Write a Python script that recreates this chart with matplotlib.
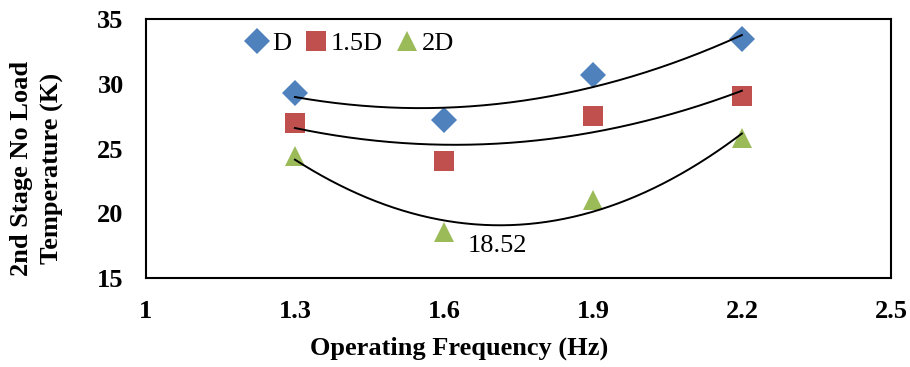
import numpy as np
import matplotlib
matplotlib.use("Agg")
import matplotlib.pyplot as plt

plt.rcParams['font.family'] = ['Liberation Serif', 'DejaVu Serif']

freq = [1.3, 1.6, 1.9, 2.2]
series_names = ["D", "1.5D", "2D"]
temp_D = [29.3, 27.2, 30.7, 33.45]
temp_15D = [27.0, 24.05, 27.5, 29.05]
temp_2D = [24.45, 18.52, 21.05, 25.85]
xticks = [1, 1.3, 1.6, 1.9, 2.2, 2.5]
xtick_labels = ["1", "1.3", "1.6", "1.9", "2.2", "2.5"]
yticks = [15, 20, 25, 30, 35]

colors = ["#4F81BD", "#C0504D", "#9BBB59"]
markers = ["D", "s", "^"]
msizes = [13.5, 14.5, 14.5]

FS = 19

fig = plt.figure(figsize=(9.1, 3.67), dpi=100)
ax = fig.add_axes([0.1604, 0.2425, 0.8186, 0.7055])

for name, vals, c, m, ms in zip(series_names, [temp_D, temp_15D, temp_2D], colors, markers, msizes):
    ax.plot(freq, vals, linestyle='none', marker=m, color=c, markersize=ms,
            markeredgewidth=0, label=name, zorder=3)
    coef = np.polyfit(freq, vals, 2)
    xs = np.linspace(freq[0], freq[-1], 200)
    ax.plot(xs, np.polyval(coef, xs), color='black', linewidth=1.4, zorder=4)

ax.annotate("18.52", xy=(freq[1], temp_2D[1]), xytext=(17, -10),
            textcoords='offset points', fontsize=FS, va='center', ha='left')

ax.set_xlim(1, 2.5)
ax.set_ylim(15, 35)
ax.set_xticks(xticks)
ax.set_xticklabels(xtick_labels)
ax.set_yticks(yticks)
ax.tick_params(length=0, labelsize=FS, pad=16)
ax.tick_params(axis='y', pad=16)
for lab in ax.get_xticklabels() + ax.get_yticklabels():
    lab.set_fontweight('bold')
for sp in ax.spines.values():
    sp.set_linewidth(1.5)
    sp.set_color('black')

ax.set_xlabel("Operating Frequency (Hz)", fontsize=FS, fontweight='bold')
ax.xaxis.set_label_coords(0.42, -0.228)
ax.set_ylabel("2nd Stage No Load\nTemperature (K)", fontsize=FS, fontweight='bold',
              linespacing=1.4)
ax.yaxis.set_label_coords(-0.11, 0.425)

leg = ax.legend(loc='center left', bbox_to_anchor=(0.13, 0.905), ncol=3, frameon=False,
                fontsize=FS, handletextpad=0.0, columnspacing=0.4, handlelength=1.1,
                borderaxespad=0, borderpad=0)

fig.savefig("out.png", dpi=100)
